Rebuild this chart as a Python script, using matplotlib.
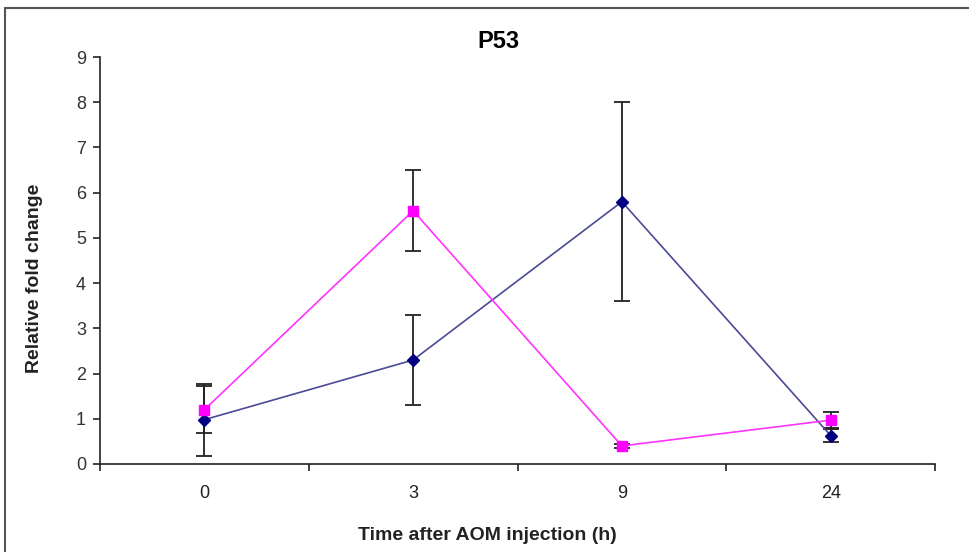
import matplotlib
matplotlib.use("Agg")
import matplotlib.pyplot as plt
from matplotlib.patches import Rectangle

plt.rcParams['font.family'] = ['Liberation Sans', 'DejaVu Sans']

# ── Data ──────────────────────────────────────────────────────────────────────
times = ["0", "3", "9", "24"]
blue_vals = [0.98, 2.3, 5.8, 0.63]
blue_err = [0.8, 1.0, 2.2, 0.15]
pink_vals = [1.2, 5.6, 0.4, 0.97]
pink_err = [0.52, 0.9, 0.05, 0.17]

# ── Plot ──────────────────────────────────────────────────────────────────────
fig = plt.figure(figsize=(9.69, 5.52), dpi=100)
ax = fig.add_axes([100 / 969, 1 - 464 / 552, 835 / 969, (464 - 57) / 552])

x = list(range(len(times)))

ax.errorbar(x, blue_vals, yerr=blue_err, fmt="none", ecolor="#222222",
            elinewidth=1.3, capsize=6, capthick=1.3, zorder=2)
ax.errorbar(x, pink_vals, yerr=pink_err, fmt="none", ecolor="#222222",
            elinewidth=1.3, capsize=6, capthick=1.3, zorder=2)
ax.plot(x, blue_vals, color="#4a4a96", linewidth=1.2, marker="D",
        markersize=6.5, markerfacecolor="#000080", markeredgecolor="#000080", zorder=3)
ax.plot(x, pink_vals, color="#ff33ff", linewidth=1.2, marker="s",
        markersize=7, markerfacecolor="#ff00ff", markeredgecolor="#ff00ff", zorder=4)

ax.set_xlim(-0.5, len(times) - 0.5)
ax.set_ylim(0, 9)
ax.set_yticks(range(0, 10))
ax.set_xticks(x)
ax.set_xticklabels(times)
ax.set_xticks([i - 0.5 for i in range(len(times) + 1)], minor=True)
ax.tick_params(axis="x", which="major", length=0, pad=15, labelsize=13, colors="#222222")
ax.tick_params(axis="x", which="minor", length=5, width=1.2, color="#222222", direction="out")
ax.tick_params(axis="y", length=5, width=1.2, labelsize=13, colors="#222222", pad=5)
for lab in ax.get_yticklabels():
    lab.set_color("#333333")

for s in ["top", "right"]:
    ax.spines[s].set_visible(False)
ax.spines["left"].set_linewidth(1.2)
ax.spines["bottom"].set_linewidth(1.2)
ax.spines["left"].set_color("#222222")
ax.spines["bottom"].set_color("#222222")

fig.text(498 / 969, 1 - 42 / 552, "P53", ha="center", va="center",
         fontsize=17, fontweight="bold")
fig.text(35 / 969, 1 - 278 / 552, "Relative fold change", ha="center", va="center",
         rotation=90, fontsize=14, fontweight="bold", color="#222222")
fig.text(487 / 969, 1 - 535 / 552, "Time after AOM injection (h)", ha="center",
         va="center", fontsize=14, fontweight="bold", color="#222222")

# outer frame (cut off at right and bottom)
fig.patches.append(Rectangle((5 / 969, -0.1), 1.2, 1 - 8 / 552 + 0.1,
                             transform=fig.transFigure, fill=False,
                             edgecolor="#555555", linewidth=1.5))

fig.savefig("out.png", dpi=100)
